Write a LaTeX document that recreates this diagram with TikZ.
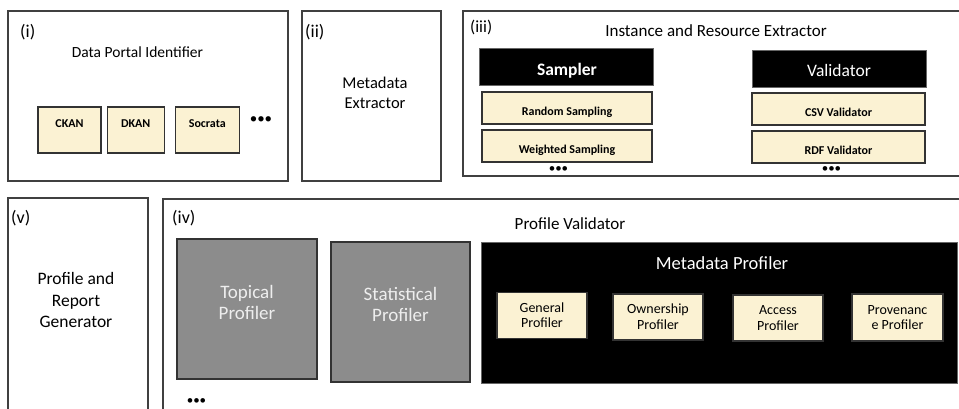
\documentclass[tikz,border=0pt]{standalone}
\usepackage{fontspec}
\setmainfont{Carlito}
\definecolor{cream}{RGB}{251,242,211}
\definecolor{boxgray}{RGB}{140,140,140}
\definecolor{edgegray}{RGB}{64,64,64}
\definecolor{lighttxt}{RGB}{238,238,238}
\newcommand{\myfs}[2]{\fontsize{#1}{#2}\selectfont}
\begin{document}
\begin{tikzpicture}[x=1pt,y=-1pt,
  panel/.style={draw=edgegray,line width=1.2pt,fill=white,inner sep=0pt,rectangle},
  creambox/.style={draw=black!80,fill=cream,line width=1.3pt,inner sep=0pt,rectangle},
  blackbox/.style={draw=black!60,fill=black,line width=1pt,inner sep=0pt,rectangle},
  graybox/.style={draw=black!80,fill=boxgray,line width=1.3pt,inner sep=0pt,rectangle},
  tag/.style={inner sep=0pt,anchor=base west,font=\myfs{18}{20}},
  title/.style={inner sep=0pt,anchor=base,font=\myfs{16.5}{20}},
  multi/.style={inner sep=0pt,align=center},
  smallbold/.style={inner sep=0pt,anchor=base,font=\bfseries\myfs{12}{14}},
  dots/.style={inner sep=0pt,anchor=center,font=\myfs{13}{13}},
]
\useasboundingbox (0,0) rectangle (959,408);
\clip (0,0) rectangle (959,408);

% ---------- panel (i)
\node[panel,minimum width=280,minimum height=170] (p1) at (148,96) {};
\node[tag] (t1) at (20,37.5) {(i)};
\node[title,font=\myfs{15.5}{19}] (dpi) at (137.5,57) {Data Portal Identifier};
\node[creambox,minimum width=63,minimum height=46] (ckan) at (69.5,130) {};
\node[creambox,minimum width=57,minimum height=46] (dkan) at (135.7,130) {};
\node[creambox,minimum width=64,minimum height=46] (socr) at (207.3,130) {};
\node[smallbold] (ckant) at (69.5,127) {CKAN};
\node[smallbold] (dkant) at (135.7,127) {DKAN};
\node[smallbold] (socrt) at (207.3,127) {Socrata};
\node[dots,font=\myfs{15}{15}] (d1) at (261,120) {•••};

% ---------- panel (ii)
\node[panel,minimum width=139,minimum height=170] (p2) at (371.5,96) {};
\node[tag] (t2) at (305,37.5) {(ii)};
\node[multi,font=\myfs{16.5}{20}] (mext) at (375,93) {Metadata\\Extractor};

% ---------- panel (iii)
\node[panel,minimum width=520,minimum height=165] (p3) at (723,93.5) {};
\node[tag,font=\myfs{17}{20}] (t3) at (470,32.5) {(iii)};
\node[title,font=\myfs{17}{20}] (ire) at (716,36) {Instance and Resource Extractor};
\node[blackbox,minimum width=174,minimum height=37] (samp) at (566,66.5) {};
\node[inner sep=0pt,anchor=base,text=white,font=\bfseries\myfs{17.5}{20}] (sampt) at (567,75) {Sampler};
\node[creambox,minimum width=170,minimum height=32] (rs) at (567,108) {};
\node[creambox,minimum width=170,minimum height=32] (ws) at (567,146) {};
\node[smallbold] (rst) at (567,115) {Random Sampling};
\node[smallbold] (wst) at (567,153) {Weighted Sampling};
\node[dots] (d2) at (558.5,170) {•••};
\node[blackbox,minimum width=174,minimum height=37] (val) at (839,68.5) {};
\node[inner sep=0pt,anchor=base,text=white,font=\myfs{17.5}{20}] (valt) at (839,76) {Validator};
\node[creambox,minimum width=173,minimum height=32] (csv) at (838.5,109) {};
\node[creambox,minimum width=173,minimum height=32] (rdf) at (838.5,147) {};
\node[smallbold] (csvt) at (838.5,116) {CSV Validator};
\node[smallbold] (rdft) at (838.5,154) {RDF Validator};
\node[dots] (d3) at (831.5,170) {•••};

% ---------- panel (v)
\node[panel,minimum width=140,minimum height=242] (p5) at (78,319) {};
\node[tag] (t5) at (11,223) {(v)};
\node[multi,font=\myfs{17.5}{21.7}] (prg) at (76,300) {Profile and\\Report\\Generator};

% ---------- panel (iv)
\node[panel,minimum width=820,minimum height=241] (p4) at (573,319.5) {};
\node[tag] (t4) at (172,223.5) {(iv)};
\node[title,font=\myfs{17}{20}] (pv) at (570,229) {Profile Validator};
\node[graybox,minimum width=140,minimum height=140] (top) at (247,309) {};
\node[multi,text=lighttxt,font=\myfs{19}{21.7}] (topt) at (247,302.5) {Topical\\Profiler};
\node[graybox,minimum width=139,minimum height=140] (stat) at (400.5,312) {};
\node[multi,text=lighttxt,font=\myfs{19}{21.7}] (statt) at (400.5,304.5) {Statistical\\Profiler};
\node[dots] (d4) at (196.5,401.5) {•••};
\node[blackbox,minimum width=476,minimum height=141] (mp) at (719,312.5) {};
\node[inner sep=0pt,anchor=base,text=white,font=\myfs{18.5}{20}] (mpt) at (722,269) {Metadata Profiler};
\node[creambox,multi,minimum width=90,minimum height=46,font=\myfs{14}{15.7}] (gen) at (542,315.3) {General\\Profiler};
\node[creambox,multi,minimum width=90,minimum height=46,font=\myfs{14}{15.7}] (own) at (658,317) {Ownership\\Profiler};
\node[creambox,multi,minimum width=90,minimum height=46,font=\myfs{14}{15.7}] (acc) at (778,318) {Access\\Profiler};
\node[creambox,multi,minimum width=91,minimum height=47,font=\myfs{14}{15.7}] (prov) at (897.5,317.5) {Provenanc\\e Profiler};
\end{tikzpicture}
\end{document}
